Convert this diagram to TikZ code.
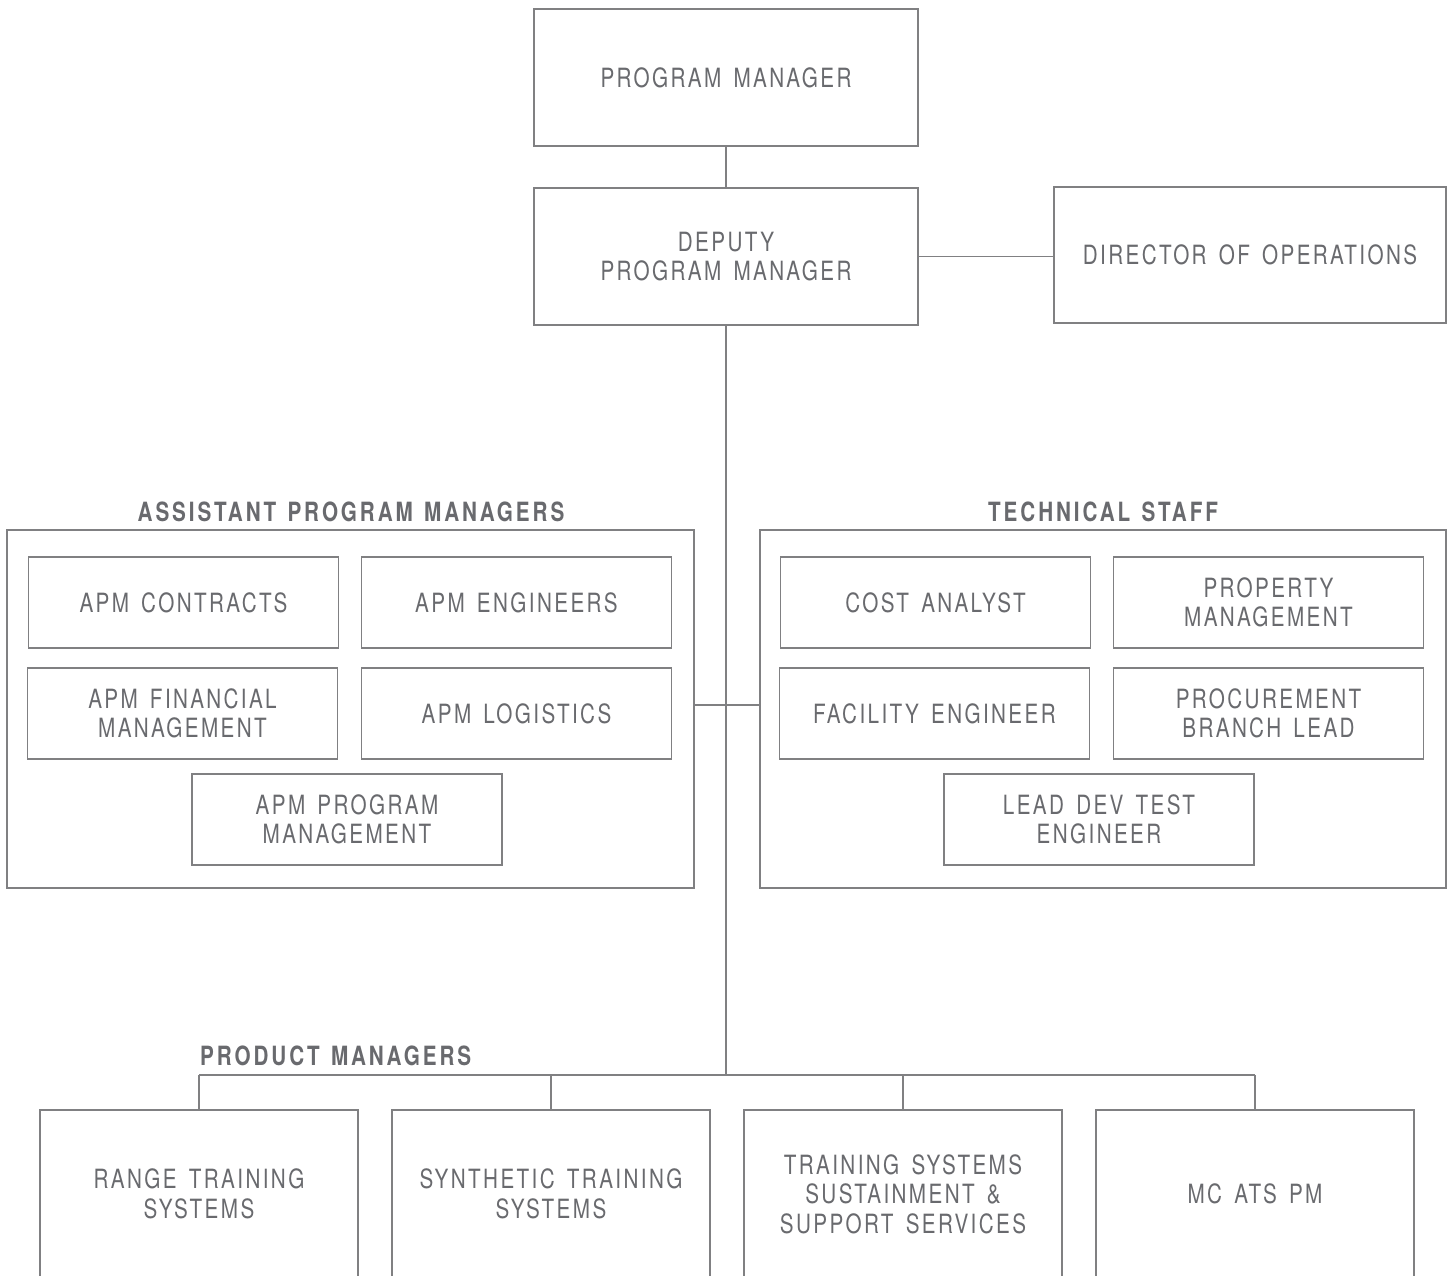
\documentclass[tikz,border=0pt]{standalone}
\usepackage{fontspec}
\newfontfamily\boxfam[FakeStretch=0.78,LetterSpace=9,WordSpace=1.5]{TeX Gyre Heros}
\newfontfamily\headfam[FakeStretch=0.78,LetterSpace=11,WordSpace=1.3]{TeX Gyre Heros Bold}
\definecolor{linec}{RGB}{128,128,130}
\definecolor{textc}{RGB}{105,106,110}
\tikzset{
  box/.style={draw=linec, line width=1.3pt, align=center, inner sep=0pt, text=textc,
    font=\boxfam\fontsize{26.5}{29.5}\selectfont},
  grp/.style={draw=linec, line width=1.3pt, inner sep=0pt},
  head/.style={text=textc, inner sep=0pt, font=\headfam\fontsize{26.5}{29.5}\selectfont},
  conn/.style={draw=linec, line width=1.3pt},
  pmbox/.style={box, minimum width=384pt, minimum height=137pt},
  ibox/.style={box, minimum width=310pt, minimum height=91pt},
  bbox/.style={box, minimum width=318pt, minimum height=168pt}
}
\begin{document}
\begin{tikzpicture}[x=1pt,y=-1pt]
\useasboundingbox (0,0) rectangle (1453,1275);
\fill[white] (0,0) rectangle (1453,1275);
\clip (0,0) rectangle (1453,1275);

\node[pmbox] (pm) at (726,77.5) {PROGRAM MANAGER};
\node[pmbox] (dep) at (726,256.5) {DEPUTY\\PROGRAM MANAGER};
\node[box, minimum width=392pt, minimum height=136pt] (dir) at (1250,255) {DIRECTOR OF OPERATIONS};

\node[grp, minimum width=687pt, minimum height=358pt] (apmgrp) at (350.5,709) {};
\node[grp, minimum width=686pt, minimum height=358pt] (techgrp) at (1103,709) {};
\node[head] (apmhead) at (351,512) {ASSISTANT PROGRAM MANAGERS};
\node[head] (techhead) at (1103,512) {TECHNICAL STAFF};

\node[ibox] (apmc) at (183.5,602.5) {APM CONTRACTS};
\node[ibox] (apme) at (516.5,602.5) {APM ENGINEERS};
\node[ibox] (apmf) at (182.5,713.5) {APM FINANCIAL\\MANAGEMENT};
\node[ibox] (apml) at (516.5,713.5) {APM LOGISTICS};
\node[ibox] (apmp) at (347,819.5) {APM PROGRAM\\MANAGEMENT};

\node[ibox] (cost) at (935.5,602.5) {COST ANALYST};
\node[ibox] (prop) at (1268.5,602.5) {PROPERTY\\MANAGEMENT};
\node[ibox] (fac) at (934.5,713.5) {FACILITY ENGINEER};
\node[ibox] (proc) at (1268.5,713.5) {PROCUREMENT\\BRANCH LEAD};
\node[ibox] (lead) at (1099,819.5) {LEAD DEV TEST\\ENGINEER};

\node[head, anchor=west] (prodhead) at (200,1056) {PRODUCT MANAGERS};
\node[bbox] (range) at (199,1194) {RANGE TRAINING\\SYSTEMS};
\node[bbox] (synth) at (551,1194) {SYNTHETIC TRAINING\\SYSTEMS};
\node[bbox] (tss) at (903,1194) {TRAINING SYSTEMS\\SUSTAINMENT \&\\SUPPORT SERVICES};
\node[bbox] (mcats) at (1255,1194) {MC ATS PM};

\coordinate (mid) at (726,705);
\coordinate (bus) at (726,1075);

\draw[conn] (pm.south) -- (dep.north);
\draw[conn] (dep.east) -- (dep.east -| dir.west);
\draw[conn] (dep.south) -- (bus);
\draw[conn] (apmgrp.east |- mid) -- (techgrp.west |- mid);
\draw[conn] (range.north |- bus) -- (mcats.north |- bus);
\draw[conn] (range.north |- bus) -- (range.north);
\draw[conn] (synth.north |- bus) -- (synth.north);
\draw[conn] (tss.north |- bus) -- (tss.north);
\draw[conn] (mcats.north |- bus) -- (mcats.north);
\end{tikzpicture}
\end{document}
